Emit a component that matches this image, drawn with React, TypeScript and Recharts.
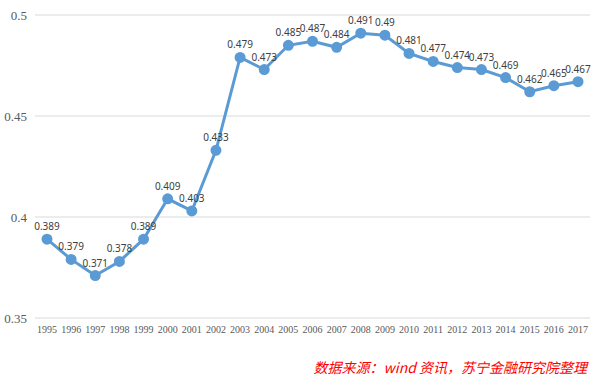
import { LineChart, Line, XAxis, YAxis, CartesianGrid, LabelList } from "recharts";

const years = [
  "1995", "1996", "1997", "1998", "1999", "2000", "2001", "2002", "2003", "2004", "2005", "2006",
  "2007", "2008", "2009", "2010", "2011", "2012", "2013", "2014", "2015", "2016", "2017",
];
const values = [
  0.389, 0.379, 0.371, 0.378, 0.389, 0.409, 0.403, 0.433, 0.479, 0.473, 0.485, 0.487,
  0.484, 0.491, 0.49, 0.481, 0.477, 0.474, 0.473, 0.469, 0.462, 0.465, 0.467,
];
const yTicks = [0.35, 0.4, 0.45, 0.5];
const sourceNote = "数据来源：wind 资讯，苏宁金融研究院整理";

const data = years.map((year, i) => ({ year, value: values[i] }));

export default function App() {
  return (
    <div style={{ position: "absolute", left: 0, top: 0, width: 593, height: 379, background: "#fff" }}>
      <LineChart width={593} height={379} data={data} margin={{ top: 15, right: 3, left: 0, bottom: 36 }}>
        <CartesianGrid vertical={false} stroke="#d9d9d9" />
        <XAxis
          dataKey="year"
          axisLine={false}
          tickLine={false}
          interval={0}
          height={25}
          padding={{ left: 12, right: 12 }}
          tick={{ fill: "#595959", fontSize: 10, fontFamily: "Liberation Serif" }}
        />
        <YAxis
          domain={[0.35, 0.5]}
          ticks={yTicks}
          axisLine={false}
          tickLine={false}
          width={35}
          tick={{ fill: "#595959", fontSize: 13, fontFamily: "Liberation Serif" }}
        />
        <Line
          dataKey="value"
          stroke="#5b9bd5"
          strokeWidth={3}
          dot={{ r: 4, fill: "#5b9bd5", stroke: "#5b9bd5" }}
          isAnimationActive={false}
        >
          <LabelList
            dataKey="value"
            position="top"
            offset={9}
            style={{ fill: "#404040", fontSize: 10, fontFamily: "Noto Sans" }}
          />
        </Line>
      </LineChart>
      <div
        style={{
          position: "absolute",
          right: 6,
          top: 357,
          color: "#ff0000",
          fontStyle: "italic",
          fontSize: 14,
          fontFamily: "Noto Sans CJK SC",
          lineHeight: "20px",
          whiteSpace: "nowrap",
        }}
      >
        {sourceNote}
      </div>
    </div>
  );
}
